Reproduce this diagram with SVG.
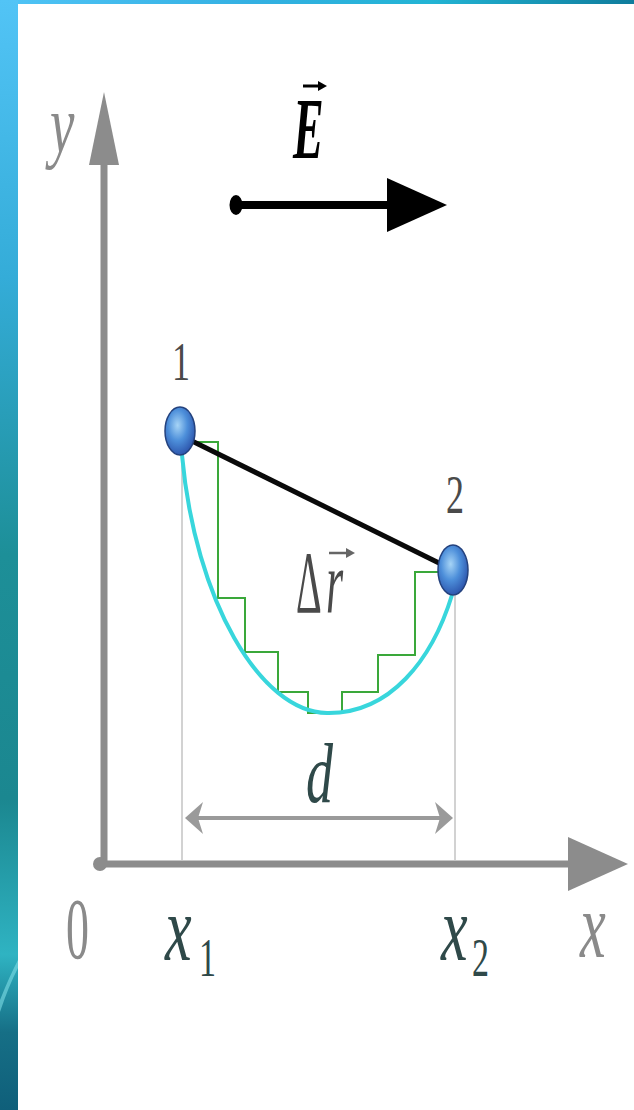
<svg xmlns="http://www.w3.org/2000/svg" width="634" height="1110" viewBox="0 0 634 1110">
<defs>
<linearGradient id="leftStrip" x1="0" y1="0" x2="0" y2="1">
<stop offset="0" stop-color="#52c4f6"/>
<stop offset="0.25" stop-color="#34acd8"/>
<stop offset="0.5" stop-color="#1d8f98"/>
<stop offset="0.72" stop-color="#1b8790"/>
<stop offset="0.86" stop-color="#2fb3c2"/>
<stop offset="0.93" stop-color="#166f86"/>
<stop offset="1" stop-color="#0f5f7a"/>
</linearGradient>
<linearGradient id="topStrip" x1="0" y1="0" x2="1" y2="0">
<stop offset="0" stop-color="#50c4f6"/>
<stop offset="0.4" stop-color="#33b0e2"/>
<stop offset="0.68" stop-color="#22b4d4"/>
<stop offset="1" stop-color="#0f7c9c"/>
</linearGradient>
<radialGradient id="ball" cx="0.42" cy="0.38" r="0.65">
<stop offset="0" stop-color="#a6d4f6"/>
<stop offset="0.5" stop-color="#4d8fda"/>
<stop offset="1" stop-color="#2b52aa"/>
</radialGradient>
<style>
.serif{font-family:"Liberation Serif","Times New Roman",serif;}
.it{font-style:italic;}
.gray{fill:#8a8a8a;}
.slate{fill:#2f4949;}
.dark{fill:#4a4a4a;}
.axis{stroke:#8c8c8c;stroke-width:7;fill:none;}
.proj{stroke:#b4b4b4;stroke-width:1.2;fill:none;}
.ballc{fill:url(#ball);stroke:#24427e;stroke-width:1.5;}
</style>
</defs>

<rect x="0" y="0" width="634" height="1110" fill="#ffffff"/>
<g id="frame">
<rect x="0" y="0" width="634" height="4" fill="url(#topStrip)"/>
<rect x="0" y="0" width="18" height="1110" fill="url(#leftStrip)"/>
<path d="M0,1000 Q10,975 18,960 L18,968 Q9,985 0,1012 Z" fill="#7fdde6" opacity="0.6"/>
</g>

<g id="axes">
<line class="axis" x1="104" y1="150" x2="104" y2="864"/>
<polygon points="104,92 89,165 119,165" fill="#8c8c8c"/>
<line class="axis" x1="100" y1="864" x2="575" y2="864"/>
<polygon points="628,864 568,837 568,891" fill="#8c8c8c"/>
<circle cx="100" cy="864" r="7" fill="#8c8c8c"/>
</g>

<g id="projections">
<line class="proj" x1="182" y1="455" x2="182" y2="860"/>
<line class="proj" x1="455" y1="595" x2="455" y2="860"/>
</g>

<g id="connectors">
<path id="staircase" d="M193,442 H218 V598 H245 V652 H278 V692 H308 V713 H342 V692 H378 V655 H415 V572 H440" fill="none" stroke="#3aa83a" stroke-width="2"/>
<path id="trajectory" d="M182,455 C195,600 260,712 327,713 C390,714 432,660 452,595" fill="none" stroke="#38d6dc" stroke-width="4"/>
<line id="displacement" x1="192" y1="441" x2="441" y2="564" stroke="#0a0a0a" stroke-width="5"/>
<g id="d-arrow">
<line x1="192" y1="818" x2="446" y2="818" stroke="#9a9a9a" stroke-width="4"/>
<path d="M185,818 L203,802 L198,818 L203,834 Z" fill="#9a9a9a"/>
<path d="M453,818 L435,802 L440,818 L435,834 Z" fill="#9a9a9a"/>
</g>
<g id="field-arrow">
<line x1="236" y1="205" x2="392" y2="205" stroke="#000" stroke-width="8"/>
<ellipse cx="236" cy="205" rx="6.5" ry="10" fill="#000"/>
<polygon points="447,205 387,178 387,232" fill="#000"/>
</g>
</g>

<g id="ball1">
<ellipse class="ballc" cx="180" cy="431" rx="15" ry="24"/>
</g>
<g id="ball2">
<ellipse class="ballc" cx="453" cy="570" rx="15" ry="25"/>
</g>

<g id="labels">
<text class="serif it gray" font-size="55" transform="translate(50,152) scale(1,1.5)">y</text>
<text class="serif it gray" font-size="58" transform="translate(580,957) scale(1,1.6)">x</text>
<text class="serif gray" font-size="46" transform="translate(66,958) scale(1,1.9)">0</text>
<text class="serif it slate" font-size="60" transform="translate(165,960) scale(1,1.55)">x</text>
<text class="serif slate" font-size="34" transform="translate(199,976) scale(1,1.6)">1</text>
<text class="serif it slate" font-size="60" transform="translate(441,960) scale(1,1.55)">x</text>
<text class="serif slate" font-size="34" transform="translate(472,976) scale(1,1.6)">2</text>
<text class="serif it slate" font-size="54" transform="translate(306,802) scale(1,1.55)">d</text>
<text class="serif dark" font-size="36" text-anchor="middle" transform="translate(181,380) scale(1,1.55)">1</text>
<text class="serif dark" font-size="36" text-anchor="middle" transform="translate(455,513) scale(1,1.55)">2</text>
<g id="delta-r">
<text class="serif dark" font-size="40" transform="translate(296,612) scale(1,2.2)">Δ</text>
<text class="serif it dark" font-size="44" transform="translate(326,612) scale(1,2)">r</text>
<line x1="329" y1="553" x2="348" y2="553" stroke="#666" stroke-width="2.5"/>
<polygon points="355,553 346,548 346,558" fill="#666"/>
</g>
<g id="E-label">
<text class="serif it" font-weight="bold" font-size="46" fill="#000" transform="translate(293,158) scale(1,1.9)">E</text>
<line x1="303" y1="86" x2="320" y2="86" stroke="#000" stroke-width="3"/>
<polygon points="327,86 318,81 318,91" fill="#000"/>
</g>
</g>
</svg>
